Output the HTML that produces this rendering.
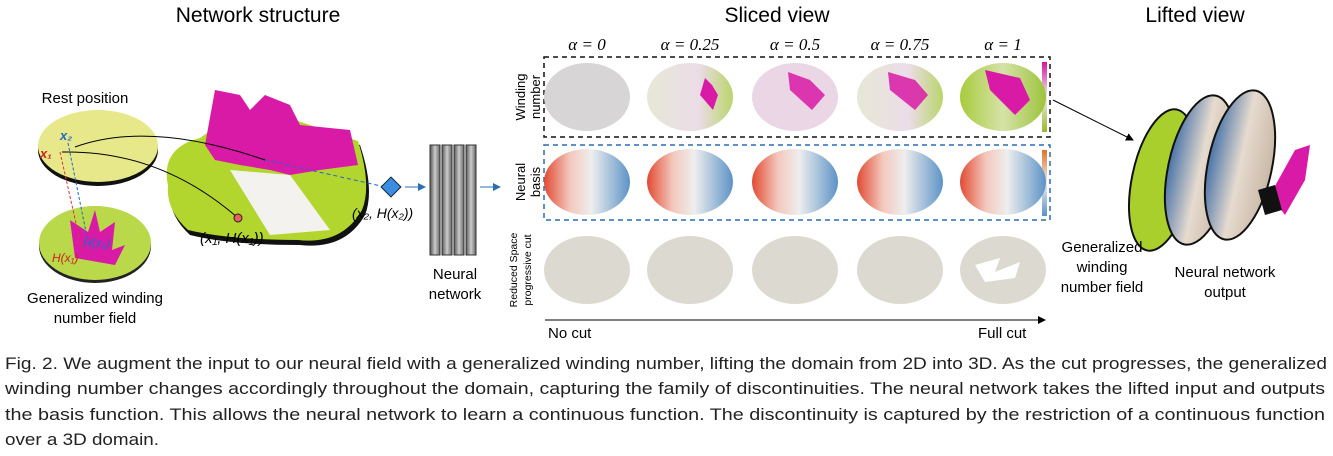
<!DOCTYPE html>
<html><head><meta charset="utf-8"><style>
body{margin:0;background:#fff;}
svg{display:block;font-family:"Liberation Sans",sans-serif;}
.cap{font-family:"Liberation Sans",sans-serif;font-size:16.5px;fill:#222;}
</style></head><body>
<svg width="1333" height="456" viewBox="0 0 1333 456">
<defs>
<linearGradient id="nb" x1="0" x2="1"><stop offset="0" stop-color="#e24a33"/><stop offset="0.3" stop-color="#f3c8bd"/><stop offset="0.55" stop-color="#eeeeee"/><stop offset="1" stop-color="#5d93c6"/></linearGradient>
<linearGradient id="wn2" x1="0" x2="1"><stop offset="0" stop-color="#e6e8d6"/><stop offset="0.6" stop-color="#ecdce8"/><stop offset="1" stop-color="#b9d56a"/></linearGradient>
<linearGradient id="wn3" x1="0" x2="1"><stop offset="0" stop-color="#a7cc3c"/><stop offset="0.5" stop-color="#d6e2a8"/><stop offset="1" stop-color="#9cc43a"/></linearGradient>
<linearGradient id="cb1" x1="0" y1="0" x2="0" y2="1"><stop offset="0" stop-color="#d4179c"/><stop offset="0.5" stop-color="#eee"/><stop offset="1" stop-color="#9ab82c"/></linearGradient>
<linearGradient id="cb2" x1="0" y1="0" x2="0" y2="1"><stop offset="0" stop-color="#e0752a"/><stop offset="0.5" stop-color="#eee"/><stop offset="1" stop-color="#5d93c6"/></linearGradient>
<linearGradient id="nnb" x1="0" x2="1"><stop offset="0" stop-color="#555"/><stop offset="0.5" stop-color="#ccc"/><stop offset="1" stop-color="#666"/></linearGradient>
<linearGradient id="disk2" x1="0" x2="1"><stop offset="0" stop-color="#4a74a8"/><stop offset="0.5" stop-color="#e6dbcf"/><stop offset="1" stop-color="#c9b8a6"/></linearGradient>
<marker id="ah" markerWidth="8" markerHeight="8" refX="7" refY="4" orient="auto"><path d="M0,0 L8,4 L0,8z" fill="#000"/></marker>
<marker id="ahb" markerWidth="8" markerHeight="8" refX="7" refY="4" orient="auto"><path d="M0,0 L8,4 L0,8z" fill="#2a6fb0"/></marker>
</defs>

<text x="258" y="22" font-size="21" text-anchor="middle">Network structure</text>
<text x="777" y="22" font-size="21" text-anchor="middle">Sliced view</text>
<text x="1195" y="22" font-size="21" text-anchor="middle">Lifted view</text>

<text x="85" y="103" font-size="15" text-anchor="middle">Rest position</text>
<ellipse cx="98" cy="150" rx="60" ry="36" fill="#111"/>
<ellipse cx="98" cy="146" rx="60" ry="36" fill="#e6e889"/>
<ellipse cx="95" cy="246" rx="56" ry="37" fill="#222"/>
<ellipse cx="95" cy="243" rx="56" ry="37" fill="#b9d84a"/>
<path d="M75,258 L70,220 L88,232 L95,210 L100,232 L115,222 L112,250 L125,245 L115,265 Z" fill="#d81aa6"/>
<text x="95" y="303" font-size="15" text-anchor="middle">Generalized winding</text>
<text x="95" y="323" font-size="15" text-anchor="middle">number field</text>
<line x1="60" y1="152" x2="82" y2="250" stroke="#d33" stroke-dasharray="3,2"/>
<line x1="68" y1="143" x2="88" y2="242" stroke="#26c" stroke-dasharray="3,2"/>
<text x="60" y="140" font-size="13" fill="#26c" font-style="italic" font-weight="bold">x₂</text>
<text x="40" y="158" font-size="13" fill="#c22" font-style="italic" font-weight="bold">x₁</text>
<text x="83" y="247" font-size="12" fill="#26c" font-style="italic">H(x₂)</text>
<text x="52" y="262" font-size="12" fill="#c22" font-style="italic">H(x₁)</text>

<path d="M170,190 Q160,150 200,140 L230,120 Q260,118 300,125 L360,145 Q375,190 365,215 Q345,250 300,245 Q230,245 190,235 Q168,215 170,190Z" fill="#111"/>
<path d="M168,186 Q160,148 200,138 L228,118 Q260,114 298,121 L358,141 Q372,186 362,210 Q342,245 298,240 Q230,240 188,230 Q166,210 168,186Z" fill="#b3d62f"/>
<path d="M205,145 L215,90 L240,95 L250,110 L265,95 L290,105 L300,125 L350,130 L358,165 L320,170 L290,175 L270,170 L240,165 L215,160 Z" fill="#d81aa6"/>
<path d="M230,170 L290,175 L330,230 L270,235 Z" fill="#f4f2ee"/>
<path d="M75,147 Q150,120 265,160" fill="none" stroke="#000"/>
<path d="M62,152 Q160,150 238,218" fill="none" stroke="#000"/>
<line x1="265" y1="160" x2="390" y2="188" stroke="#26c" stroke-dasharray="4,3"/>
<circle cx="238" cy="218" r="4" fill="#e96060" stroke="#222"/>
<text x="200" y="243" font-size="15" font-style="italic">(x₁, H(x₁))</text>
<rect x="384" y="180" width="14" height="14" fill="#3a8ee0" stroke="#123" transform="rotate(45 391 187)"/>
<text x="352" y="218" font-size="14" font-style="italic">(x₂, H(x₂))</text>
<line x1="405" y1="187" x2="425" y2="187" stroke="#2a6fb0" marker-end="url(#ahb)"/>

<g>
<rect x="430" y="145" width="10" height="110" fill="url(#nnb)" stroke="#333"/>
<rect x="442" y="145" width="10" height="110" fill="url(#nnb)" stroke="#333"/>
<rect x="454" y="145" width="10" height="110" fill="url(#nnb)" stroke="#333"/>
<rect x="466" y="145" width="10" height="110" fill="url(#nnb)" stroke="#333"/>
</g>
<text x="455" y="279" font-size="15" text-anchor="middle">Neural</text>
<text x="455" y="299" font-size="15" text-anchor="middle">network</text>
<line x1="480" y1="187" x2="500" y2="187" stroke="#2a6fb0" marker-end="url(#ahb)"/>

<g font-size="17" font-style="italic" font-family="Liberation Serif,serif" text-anchor="middle">
<text x="587" y="50">α = 0</text>
<text x="690" y="50">α = 0.25</text>
<text x="795" y="50">α = 0.5</text>
<text x="900" y="50">α = 0.75</text>
<text x="1003" y="50">α = 1</text>
</g>

<text transform="translate(525,97) rotate(-90)" font-size="13" text-anchor="middle">Winding</text>
<text transform="translate(540,97) rotate(-90)" font-size="13" text-anchor="middle">number</text>
<text transform="translate(525,182) rotate(-90)" font-size="13" text-anchor="middle">Neural</text>
<text transform="translate(540,182) rotate(-90)" font-size="13" text-anchor="middle">basis</text>
<text transform="translate(517,270) rotate(-90)" font-size="10.5" text-anchor="middle">Reduced Space</text>
<text transform="translate(531,270) rotate(-90)" font-size="10.5" text-anchor="middle">progressive cut</text>

<rect x="544" y="57" width="506" height="80" fill="none" stroke="#111" stroke-width="1.5" stroke-dasharray="5,4"/>
<rect x="544" y="145" width="506" height="75" fill="none" stroke="#2a6fb0" stroke-width="1.5" stroke-dasharray="5,4"/>
<rect x="1042" y="62" width="5" height="70" fill="url(#cb1)"/>
<rect x="1042" y="150" width="5" height="66" fill="url(#cb2)"/>

<ellipse cx="587" cy="97" rx="43" ry="34" fill="#d8d5d6"/>
<ellipse cx="690" cy="97" rx="43" ry="34" fill="url(#wn2)"/>
<path d="M700,95 L705,78 L712,85 L718,95 L713,110 Z" fill="#d81aa6"/>
<ellipse cx="795" cy="97" rx="43" ry="34" fill="#ead6e4"/>
<path d="M790,90 L788,72 L810,80 L825,95 L812,110 Z" fill="#d81aa6" opacity="0.85"/>
<ellipse cx="900" cy="97" rx="43" ry="34" fill="url(#wn2)"/>
<path d="M890,90 L888,72 L915,80 L928,95 L915,110 Z" fill="#d81aa6" opacity="0.85"/>
<ellipse cx="1003" cy="97" rx="43" ry="34" fill="url(#wn3)"/>
<path d="M990,90 L985,70 L1020,78 L1030,100 L1015,115 Z" fill="#d81aa6"/>

<g fill="url(#nb)">
<ellipse cx="587" cy="182" rx="43" ry="33"/>
<ellipse cx="690" cy="182" rx="43" ry="33"/>
<ellipse cx="795" cy="182" rx="43" ry="33"/>
<ellipse cx="900" cy="182" rx="43" ry="33"/>
<ellipse cx="1003" cy="182" rx="43" ry="33"/>
</g>

<g fill="#dcdad0">
<ellipse cx="587" cy="270" rx="43" ry="34"/>
<ellipse cx="690" cy="270" rx="43" ry="34"/>
<ellipse cx="795" cy="270" rx="43" ry="34"/>
<ellipse cx="900" cy="270" rx="43" ry="34"/>
<ellipse cx="1003" cy="270" rx="43" ry="34"/>
</g>
<path d="M975,265 L1000,258 L995,272 L1020,262 L1015,278 L985,282 Z" fill="#fff"/>

<line x1="545" y1="320" x2="1045" y2="320" stroke="#000" marker-end="url(#ah)"/>
<text x="548" y="338" font-size="15">No cut</text>
<text x="978" y="338" font-size="15">Full cut</text>

<line x1="1053" y1="100" x2="1133" y2="140" stroke="#000" marker-end="url(#ah)"/>
<ellipse cx="1162" cy="180" rx="30" ry="72" transform="rotate(12 1162 180)" fill="#a9cf2c" stroke="#111" stroke-width="2"/>
<ellipse cx="1200" cy="170" rx="32" ry="76" transform="rotate(12 1200 170)" fill="url(#disk2)" stroke="#111" stroke-width="2"/>
<ellipse cx="1240" cy="165" rx="32" ry="76" transform="rotate(12 1240 165)" fill="url(#disk2)" stroke="#111" stroke-width="2"/>
<path d="M1270,195 L1295,150 L1310,145 L1305,180 L1285,215 Z" fill="#d81aa6"/>
<path d="M1258,190 L1275,185 L1282,210 L1265,215 Z" fill="#111"/>
<text x="1102" y="252" font-size="15" text-anchor="middle">Generalized</text>
<text x="1102" y="272" font-size="15" text-anchor="middle">winding</text>
<text x="1102" y="292" font-size="15" text-anchor="middle">number field</text>
<text x="1225" y="277" font-size="15" text-anchor="middle">Neural network</text>
<text x="1225" y="297" font-size="15" text-anchor="middle">output</text>

<g>
<text class="cap" x="5" y="369" textLength="1322" lengthAdjust="spacingAndGlyphs">Fig. 2.  We augment the input to our neural field with a generalized winding number, lifting the domain from 2D into 3D. As the cut progresses, the generalized</text>
<text class="cap" x="5" y="394" textLength="1320" lengthAdjust="spacingAndGlyphs">winding number changes accordingly throughout the domain, capturing the family of discontinuities. The neural network takes the lifted input and outputs</text>
<text class="cap" x="5" y="420" textLength="1320" lengthAdjust="spacingAndGlyphs">the basis function. This allows the neural network to learn a continuous function. The discontinuity is captured by the restriction of a continuous function</text>
<text class="cap" x="5" y="445" textLength="154" lengthAdjust="spacingAndGlyphs">over a 3D domain.</text>
</g>
</svg>
</body></html>
